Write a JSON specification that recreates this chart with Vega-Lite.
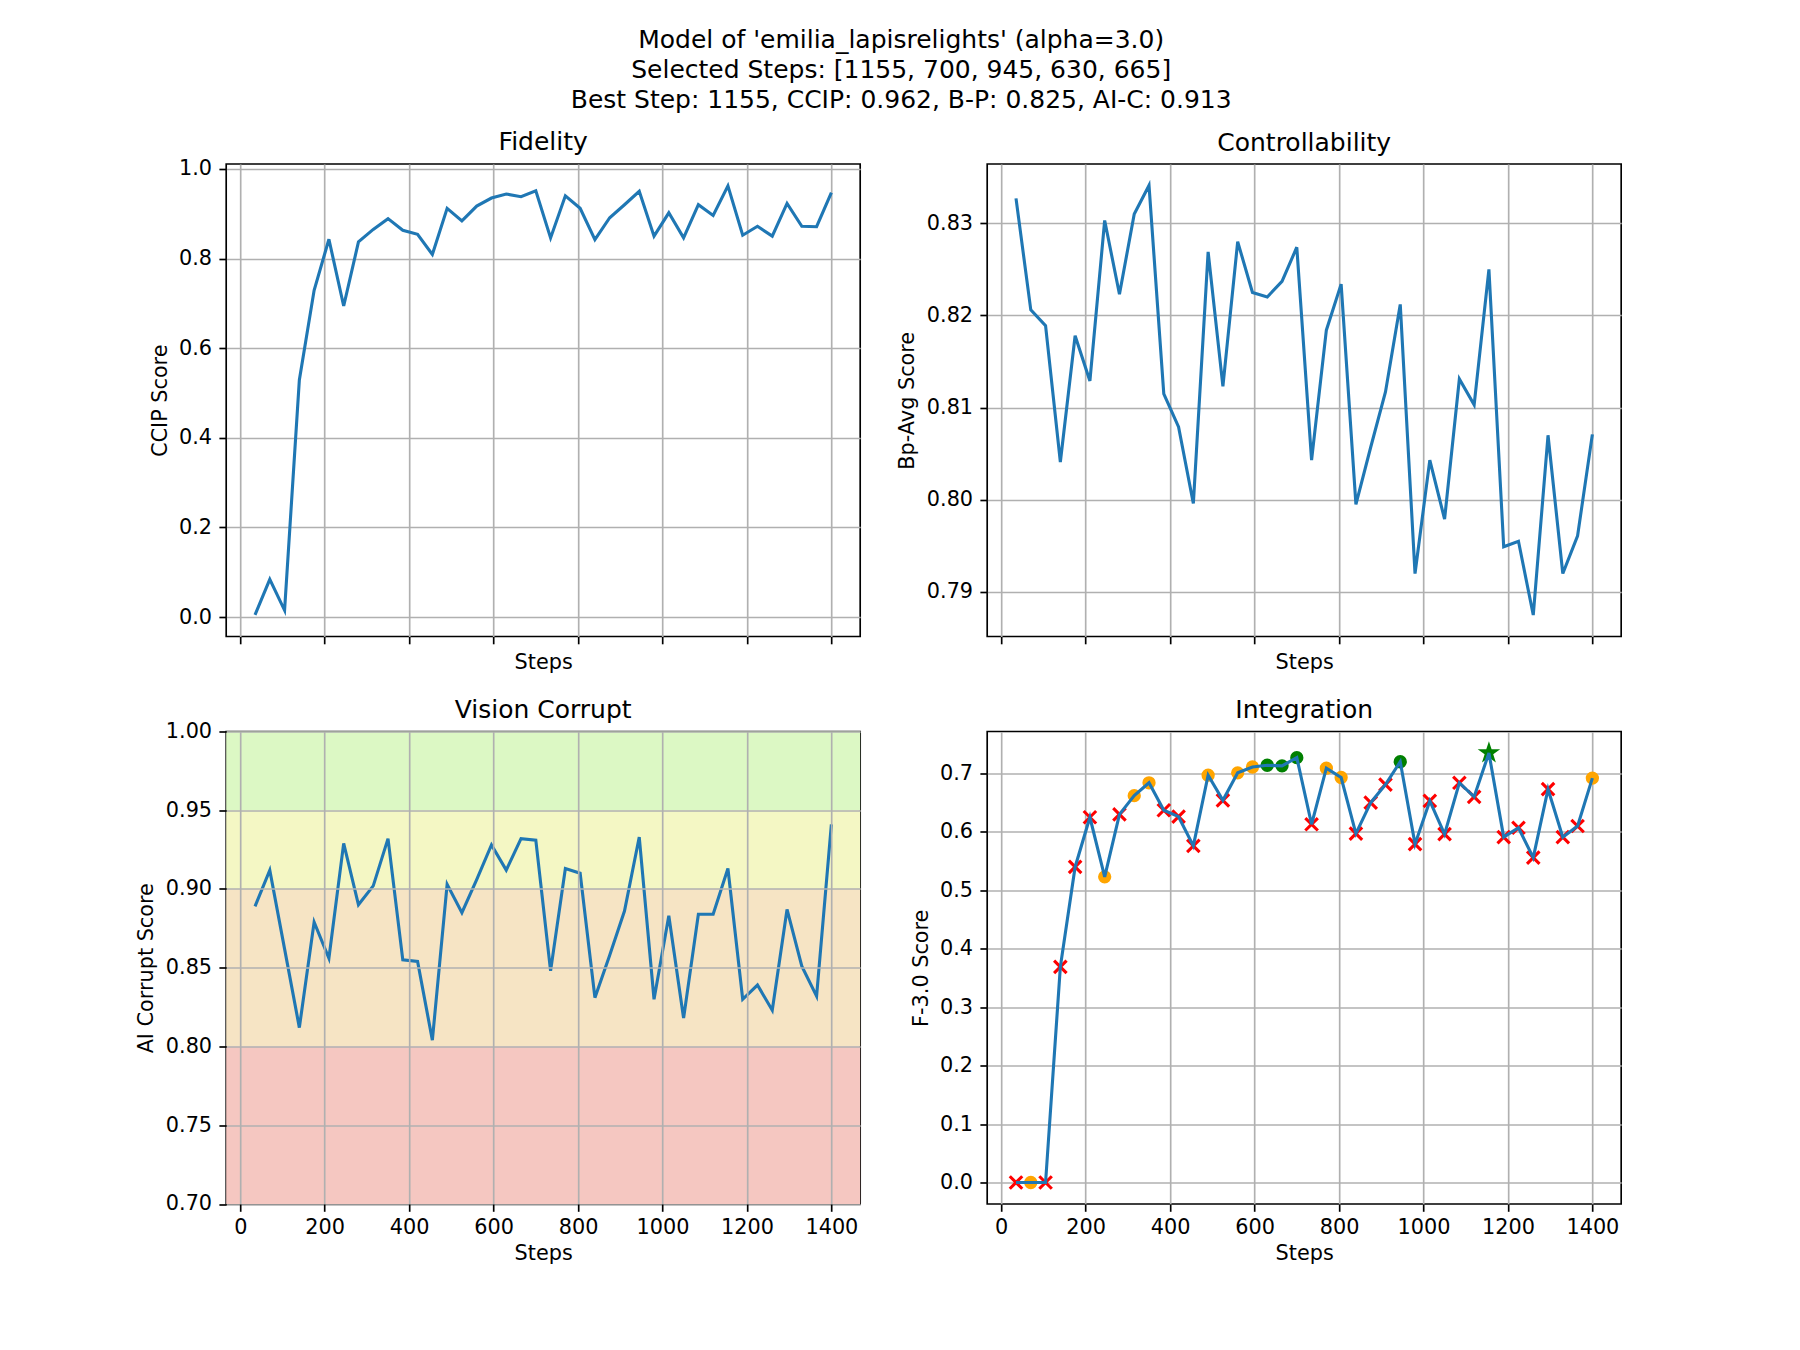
{
  "$schema": "https://vega.github.io/schema/vega-lite/v6.json",
  "background": "white",
  "padding": {"left": 134.2, "top": 27, "right": 0, "bottom": 0},
  "title": {
    "text": ["Model of 'emilia_lapisrelights' (alpha=3.0)", "Selected Steps: [1155, 700, 945, 630, 665]", "Best Step: 1155, CCIP: 0.962, B-P: 0.825, AI-C: 0.913"],
    "fontSize": 25, "lineHeight": 30, "anchor": "middle", "frame": "group", "dx": 675, "offset": 17
  },
  "datasets": {
    "d": [
      {"step": 35, "ccip": 0.005, "bp": 0.8327, "aic": 0.889, "f3": 0.000, "kind": "x"},
      {"step": 70, "ccip": 0.084, "bp": 0.8206, "aic": 0.912, "f3": 0.000, "kind": "o"},
      {"step": 105, "ccip": 0.015, "bp": 0.8189, "aic": 0.862, "f3": 0.000, "kind": "x"},
      {"step": 140, "ccip": 0.529, "bp": 0.8041, "aic": 0.812, "f3": 0.369, "kind": "x"},
      {"step": 175, "ccip": 0.729, "bp": 0.8178, "aic": 0.879, "f3": 0.540, "kind": "x"},
      {"step": 210, "ccip": 0.843, "bp": 0.8129, "aic": 0.856, "f3": 0.625, "kind": "x"},
      {"step": 245, "ccip": 0.694, "bp": 0.8303, "aic": 0.929, "f3": 0.523, "kind": "o"},
      {"step": 280, "ccip": 0.837, "bp": 0.8223, "aic": 0.890, "f3": 0.630, "kind": "x"},
      {"step": 315, "ccip": 0.865, "bp": 0.8310, "aic": 0.902, "f3": 0.662, "kind": "o"},
      {"step": 350, "ccip": 0.889, "bp": 0.8341, "aic": 0.932, "f3": 0.684, "kind": "o"},
      {"step": 385, "ccip": 0.863, "bp": 0.8115, "aic": 0.855, "f3": 0.637, "kind": "x"},
      {"step": 420, "ccip": 0.854, "bp": 0.8079, "aic": 0.854, "f3": 0.626, "kind": "x"},
      {"step": 455, "ccip": 0.809, "bp": 0.7996, "aic": 0.804, "f3": 0.576, "kind": "x"},
      {"step": 490, "ccip": 0.912, "bp": 0.8269, "aic": 0.903, "f3": 0.697, "kind": "o"},
      {"step": 525, "ccip": 0.884, "bp": 0.8123, "aic": 0.885, "f3": 0.654, "kind": "x"},
      {"step": 560, "ccip": 0.917, "bp": 0.8280, "aic": 0.906, "f3": 0.701, "kind": "o"},
      {"step": 595, "ccip": 0.935, "bp": 0.8225, "aic": 0.928, "f3": 0.711, "kind": "o"},
      {"step": 630, "ccip": 0.944, "bp": 0.8220, "aic": 0.912, "f3": 0.714, "kind": "sel"},
      {"step": 665, "ccip": 0.938, "bp": 0.8237, "aic": 0.932, "f3": 0.713, "kind": "sel"},
      {"step": 700, "ccip": 0.951, "bp": 0.8274, "aic": 0.931, "f3": 0.727, "kind": "sel"},
      {"step": 735, "ccip": 0.846, "bp": 0.8043, "aic": 0.848, "f3": 0.613, "kind": "x"},
      {"step": 770, "ccip": 0.940, "bp": 0.8184, "aic": 0.913, "f3": 0.709, "kind": "o"},
      {"step": 805, "ccip": 0.912, "bp": 0.8234, "aic": 0.910, "f3": 0.693, "kind": "o"},
      {"step": 840, "ccip": 0.842, "bp": 0.7995, "aic": 0.831, "f3": 0.597, "kind": "x"},
      {"step": 875, "ccip": 0.891, "bp": 0.8057, "aic": 0.858, "f3": 0.650, "kind": "x"},
      {"step": 910, "ccip": 0.920, "bp": 0.8117, "aic": 0.886, "f3": 0.681, "kind": "x"},
      {"step": 945, "ccip": 0.950, "bp": 0.8212, "aic": 0.933, "f3": 0.720, "kind": "sel"},
      {"step": 980, "ccip": 0.850, "bp": 0.7920, "aic": 0.830, "f3": 0.579, "kind": "x"},
      {"step": 1015, "ccip": 0.902, "bp": 0.8043, "aic": 0.883, "f3": 0.653, "kind": "x"},
      {"step": 1050, "ccip": 0.846, "bp": 0.7979, "aic": 0.818, "f3": 0.596, "kind": "x"},
      {"step": 1085, "ccip": 0.920, "bp": 0.8131, "aic": 0.884, "f3": 0.684, "kind": "x"},
      {"step": 1120, "ccip": 0.896, "bp": 0.8103, "aic": 0.884, "f3": 0.660, "kind": "x"},
      {"step": 1155, "ccip": 0.962, "bp": 0.8250, "aic": 0.913, "f3": 0.735, "kind": "best"},
      {"step": 1190, "ccip": 0.852, "bp": 0.7949, "aic": 0.830, "f3": 0.591, "kind": "x"},
      {"step": 1225, "ccip": 0.872, "bp": 0.7955, "aic": 0.839, "f3": 0.607, "kind": "x"},
      {"step": 1260, "ccip": 0.850, "bp": 0.7875, "aic": 0.823, "f3": 0.556, "kind": "x"},
      {"step": 1295, "ccip": 0.923, "bp": 0.8070, "aic": 0.887, "f3": 0.673, "kind": "x"},
      {"step": 1330, "ccip": 0.872, "bp": 0.7920, "aic": 0.851, "f3": 0.591, "kind": "x"},
      {"step": 1365, "ccip": 0.871, "bp": 0.7961, "aic": 0.832, "f3": 0.610, "kind": "x"},
      {"step": 1400, "ccip": 0.947, "bp": 0.8071, "aic": 0.941, "f3": 0.692, "kind": "o"}
    ],
    "bands": [
      {"lo": 0.95, "hi": 1.0, "band": "a"},
      {"lo": 0.9, "hi": 0.95, "band": "b"},
      {"lo": 0.8, "hi": 0.9, "band": "c"},
      {"lo": 0.7, "hi": 0.8, "band": "d"}
    ]
  },
  "columns": 2,
  "bounds": "flush",
  "spacing": {"row": 94.5, "column": 127},
  "concat": [
    {
      "width": 634, "height": 472.5,
      "title": {"text": "Fidelity", "offset": 2.5},
      "data": {"name": "d"},
      "mark": {"type": "line", "color": "#1f77b4", "strokeWidth": 3.1},
      "encoding": {
        "x": {"field": "step", "type": "quantitative", "scale": {"domain": [-33.25, 1468.25], "nice": false, "zero": false}, "axis": {"values": [0, 200, 400, 600, 800, 1000, 1200, 1400], "labels": false, "title": "Steps", "titlePadding": 8.3}},
        "y": {"field": "ccip", "type": "quantitative", "scale": {"domain": [-0.0434, 1.0109], "nice": false, "zero": false}, "axis": {"values": [0, 0.2, 0.4, 0.6, 0.8, 1.0], "format": ".1f", "title": "CCIP Score"}}
      }
    },
    {
      "width": 634, "height": 472.5,
      "title": {"text": "Controllability", "offset": 8},
      "data": {"name": "d"},
      "mark": {"type": "line", "color": "#1f77b4", "strokeWidth": 3.1},
      "encoding": {
        "x": {"field": "step", "type": "quantitative", "scale": {"domain": [-33.25, 1468.25], "nice": false, "zero": false}, "axis": {"values": [0, 200, 400, 600, 800, 1000, 1200, 1400], "labels": false, "title": "Steps", "titlePadding": 8.3}},
        "y": {"field": "bp", "type": "quantitative", "scale": {"domain": [0.78517, 0.83643], "nice": false, "zero": false}, "axis": {"values": [0.79, 0.80, 0.81, 0.82, 0.83], "format": ".2f", "title": "Bp-Avg Score"}}
      }
    },
    {
      "width": 634, "height": 472.5,
      "title": {"text": "Vision Corrupt", "offset": -2.4},
      "layer": [
        {
          "data": {"name": "bands"},
          "mark": {"type": "rect"},
          "encoding": {
            "y": {"field": "lo", "type": "quantitative", "scale": {"domain": [0.7, 1.0], "nice": false, "zero": false}, "axis": {"values": [0.7, 0.75, 0.8, 0.85, 0.9, 0.95, 1.0], "format": ".2f", "title": "AI Corrupt Score", "zindex": 1}},
            "y2": {"field": "hi"},
            "color": {"field": "band", "type": "nominal", "scale": {"domain": ["a", "b", "c", "d"], "range": ["#dcf8c4", "#f4f7c4", "#f6e4c4", "#f5c7c1"]}, "legend": null}
          }
        },
        {
          "data": {"name": "d"},
          "mark": {"type": "line", "color": "#1f77b4", "strokeWidth": 3.1},
          "encoding": {
            "x": {"field": "step", "type": "quantitative", "scale": {"domain": [-33.25, 1468.25], "nice": false, "zero": false}, "axis": {"values": [0, 200, 400, 600, 800, 1000, 1200, 1400], "format": "d", "title": "Steps", "zindex": 1}},
            "y": {"field": "aic", "type": "quantitative", "scale": {"domain": [0.7, 1.0], "nice": false, "zero": false}, "axis": {"values": [0.7, 0.75, 0.8, 0.85, 0.9, 0.95, 1.0], "format": ".2f", "title": "AI Corrupt Score", "zindex": 1}}
          }
        }
      ]
    },
    {
      "width": 634, "height": 472.5,
      "title": {"text": "Integration", "offset": 8},
      "data": {"name": "d"},
      "encoding": {
        "x": {"field": "step", "type": "quantitative", "scale": {"domain": [-33.25, 1468.25], "nice": false, "zero": false}, "axis": {"values": [0, 200, 400, 600, 800, 1000, 1200, 1400], "format": "d", "title": "Steps"}},
        "y": {"field": "f3", "type": "quantitative", "scale": {"domain": [-0.03675, 0.77175], "nice": false, "zero": false}, "axis": {"values": [0, 0.1, 0.2, 0.3, 0.4, 0.5, 0.6, 0.7], "format": ".1f", "title": "F-3.0 Score"}}
      },
      "layer": [
        {
          "transform": [{"filter": "datum.kind == 'x'"}],
          "mark": {"type": "point", "shape": "M-1,-1L1,1M-1,1L1,-1", "filled": false, "color": "#ff0000", "strokeWidth": 3.1, "size": 156, "opacity": 1}
        },
        {
          "transform": [{"filter": "datum.kind == 'o'"}],
          "mark": {"type": "point", "shape": "circle", "filled": true, "color": "#ffa500", "size": 177, "opacity": 1}
        },
        {
          "transform": [{"filter": "datum.kind == 'sel'"}],
          "mark": {"type": "point", "shape": "circle", "filled": true, "color": "#008000", "size": 177, "opacity": 1}
        },
        {
          "transform": [{"filter": "datum.kind == 'best'"}],
          "mark": {"type": "point", "shape": "M0,-1L0.2245,-0.309L0.951,-0.309L0.363,0.118L0.588,0.809L0,0.382L-0.588,0.809L-0.363,0.118L-0.951,-0.309L-0.2245,-0.309Z", "filled": true, "color": "#008000", "size": 560, "opacity": 1}
        },
        {
          "mark": {"type": "line", "color": "#1f77b4", "strokeWidth": 3.1}
        }
      ]
    }
  ],
  "config": {
    "font": "DejaVu Sans",
    "view": {"stroke": "black", "strokeWidth": 1.67},
    "axis": {
      "domain": false, "grid": true, "gridColor": "#b0b0b0", "gridWidth": 1.67,
      "tickColor": "black", "tickWidth": 1.67, "tickSize": 7.3,
      "labelFont": "DejaVu Sans", "labelFontSize": 20.8, "labelColor": "black", "labelPadding": 7.3, "labelFlush": false,
      "titleFont": "DejaVu Sans", "titleFontSize": 20.8, "titleFontWeight": "normal", "titleColor": "black", "titlePadding": 8.3
    },
    "axisX": {"titlePadding": 6.3, "labelPadding": 6.5},
    "title": {"font": "DejaVu Sans", "fontSize": 25, "fontWeight": "normal", "color": "black"}
  }
}
